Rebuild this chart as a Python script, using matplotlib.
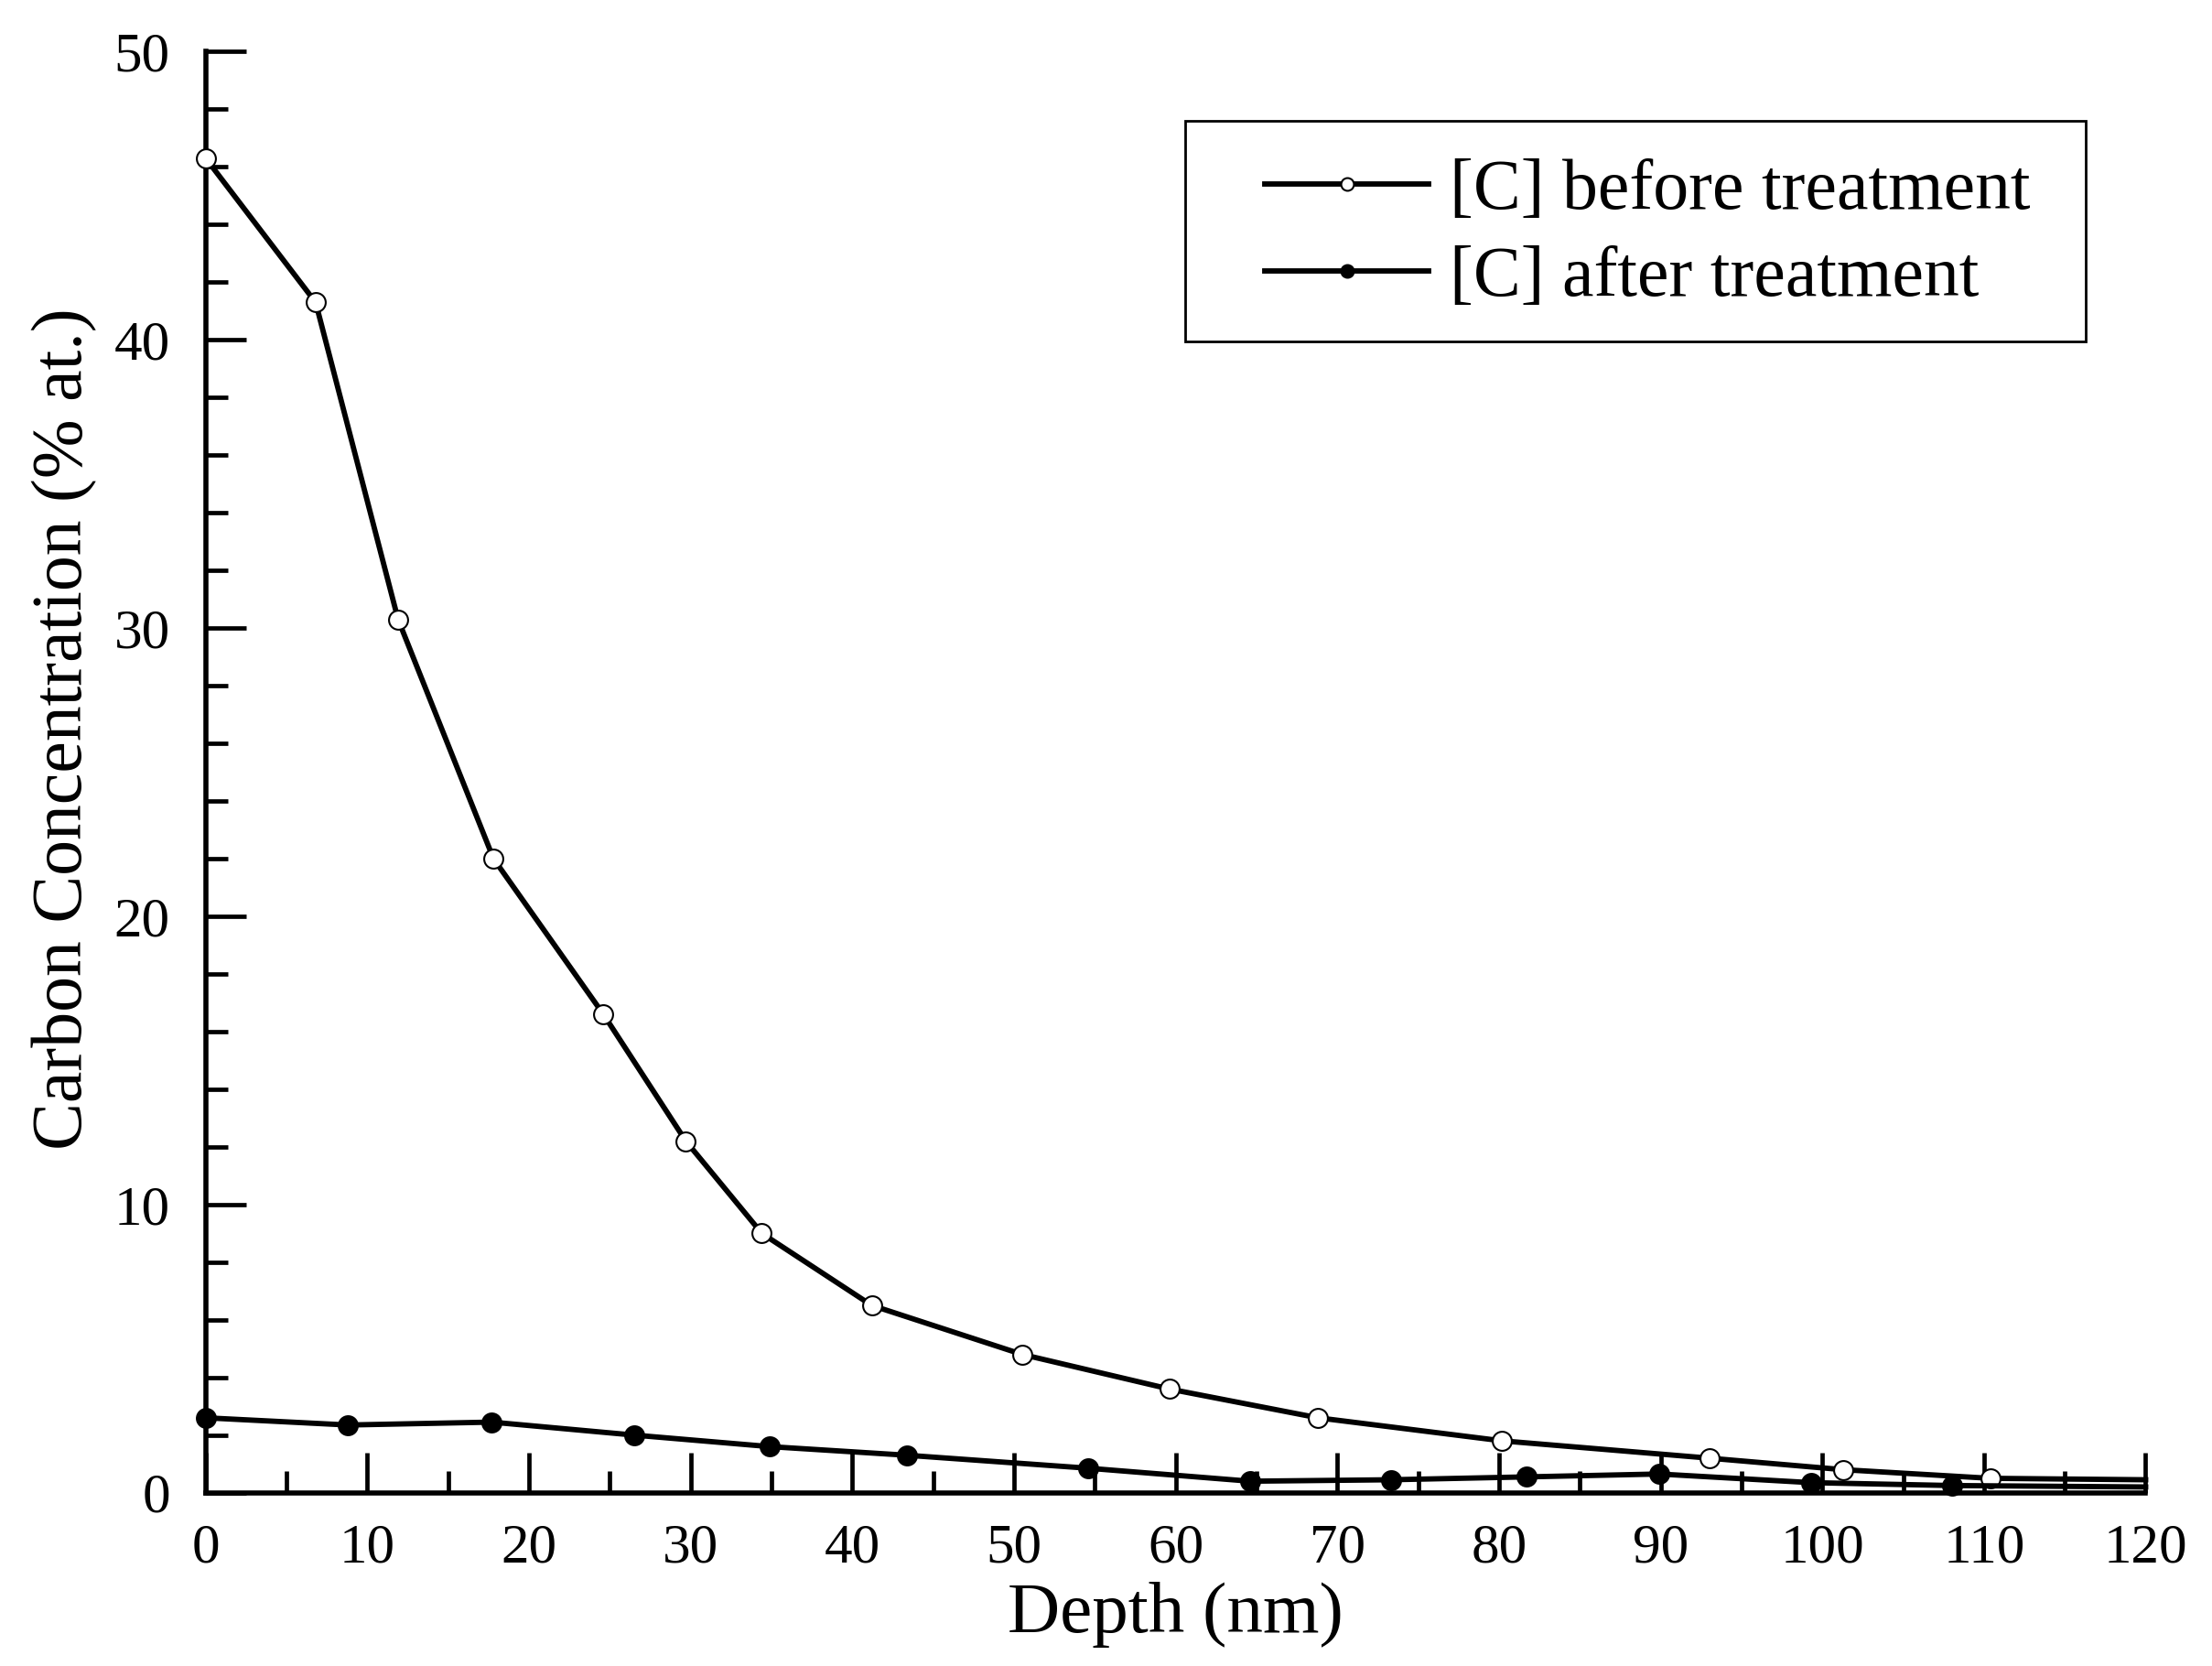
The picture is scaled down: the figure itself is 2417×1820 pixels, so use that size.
import matplotlib
matplotlib.use("Agg")
import matplotlib.pyplot as plt
from matplotlib.ticker import MultipleLocator
from matplotlib.patches import Rectangle

depth_before = [0, 6.8, 11.9, 17.8, 24.6, 29.7, 34.4, 41.2, 50.5, 59.6, 68.8, 80.2, 93.0, 101.3, 110.4, 120]
conc_before = [46.3, 41.3, 30.3, 22.0, 16.6, 12.2, 9.0, 6.5, 4.8, 3.6, 2.6, 1.8, 1.2, 0.8, 0.5, 0.45]
depth_after = [0, 8.8, 17.7, 26.5, 34.9, 43.4, 54.6, 64.6, 73.3, 81.7, 89.9, 99.3, 108.0, 120]
conc_after = [2.6, 2.35, 2.45, 2.0, 1.6, 1.3, 0.85, 0.4, 0.45, 0.55, 0.65, 0.35, 0.25, 0.2]

plt.rcParams['font.family'] = ['Liberation Serif', 'DejaVu Serif']

fig = plt.figure(figsize=(24.17, 18.20), dpi=100)
ax = fig.add_axes([0.093, 0.104, 0.877, 0.865])

ax.plot(depth_before, conc_before, color='black', lw=4.2, marker='o', ms=15,
        mfc='white', mec='black', mew=1.5, markevery=list(range(len(depth_before) - 1)),
        label='[C] before treatment', clip_on=False, zorder=3)
ax.plot(depth_after, conc_after, color='black', lw=4.2, marker='o', ms=15,
        mfc='black', mec='black', mew=1.5, markevery=list(range(len(depth_after) - 1)),
        label='[C] after treatment', clip_on=False, zorder=3)

ax.set_xlim(0, 120)
ax.set_ylim(0, 50)
ax.xaxis.set_major_locator(MultipleLocator(10))
ax.xaxis.set_minor_locator(MultipleLocator(5))
ax.yaxis.set_major_locator(MultipleLocator(10))
ax.yaxis.set_minor_locator(MultipleLocator(2))

for s in ['top', 'right']:
    ax.spines[s].set_visible(False)
for s in ['left', 'bottom']:
    ax.spines[s].set_linewidth(4.0)

ax.tick_params(which='major', direction='in', length=32, width=3.4, labelsize=44)
ax.tick_params(which='minor', direction='in', length=17, width=3.4)
ax.tick_params(axis='x', which='major', pad=24)
ax.tick_params(axis='y', which='major', pad=28)

ax.set_xlabel('Depth (nm)', fontsize=57)
ax.xaxis.set_label_coords(0.5, -0.062)
ax.set_ylabel('Carbon Concentration (% at.)', fontsize=56)
ax.yaxis.set_label_coords(-0.056, 0.53)

leg = ax.legend(loc='center left', bbox_to_anchor=(0.546, 0.8725), fontsize=56,
                frameon=False, handlelength=2.3, borderpad=0, labelspacing=0.3,
                handletextpad=0.3, borderaxespad=0)
for h in leg.legend_handles:
    h.set_markersize(10)
    h.set_linewidth(4.2)

ax.add_patch(Rectangle((0.505, 0.799), 0.464, 0.153, transform=ax.transAxes,
                       fill=False, edgecolor='black', lw=2.0, clip_on=False, zorder=5))

fig.savefig('out.png', dpi=100, facecolor='white')
